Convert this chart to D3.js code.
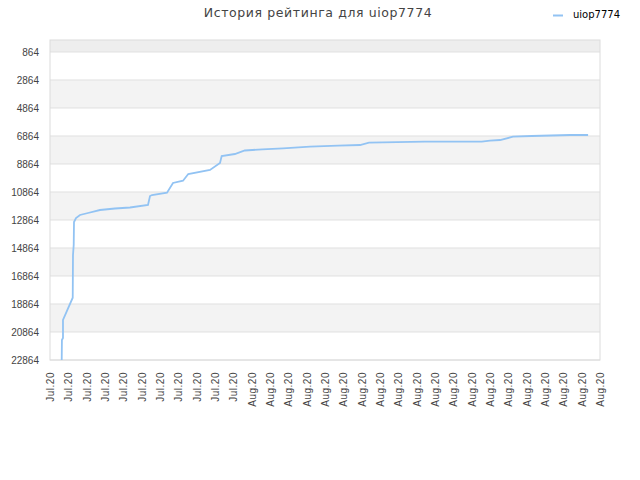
<!DOCTYPE html>
<html>
<head>
<meta charset="utf-8">
<script src="https://cdn.jsdelivr.net/npm/d3@7"></script>
<style>
  body { margin: 0; background: #fff; }
  svg { font-family: "DejaVu Sans", sans-serif; }
</style>
</head>
<body>
<div id="chart"></div>
<script>
const title = "История рейтинга для uiop7774";
const seriesName = "uiop7774";

// rating history
const times = [
  "2020-07-21T15:20", "2020-07-21T15:36", "2020-07-21T17:00", "2020-07-21T17:00",
  "2020-07-22T05:45", "2020-07-22T06:06", "2020-07-22T07:02", "2020-07-22T07:25",
  "2020-07-22T10:02", "2020-07-22T15:16", "2020-07-23T01:45", "2020-07-23T17:27",
  "2020-07-24T13:05", "2020-07-25T08:44", "2020-07-26T08:17", "2020-07-26T10:55",
  "2020-07-26T13:32", "2020-07-27T09:10", "2020-07-27T17:01", "2020-07-28T06:07",
  "2020-07-28T13:00", "2020-07-29T17:27", "2020-07-30T06:33", "2020-07-30T08:46",
  "2020-07-31T02:00", "2020-07-31T15:00", "2020-08-01T14:00", "2020-08-02T17:02",
  "2020-08-04T04:22", "2020-08-05T17:00", "2020-08-06T21:49", "2020-08-07T09:36",
  "2020-08-10T10:48", "2020-08-13T13:12", "2020-08-14T00:00", "2020-08-14T13:12",
  "2020-08-15T06:00", "2020-08-16T06:29", "2020-08-18T08:38", "2020-08-19T08:24"
];
const ranks = [
  22864, 21436, 21290, 20007,
  18414, 15364, 14650, 13007,
  12721, 12507, 12364, 12150,
  12043, 11971, 11793, 11150,
  11079, 10914, 10221, 10057,
  9578, 9293, 8793, 8293,
  8150, 7900, 7814, 7743,
  7628, 7557, 7507, 7343,
  7271, 7271, 7200, 7150,
  6914, 6864, 6793, 6793
];

const yTicks = [864, 2864, 4864, 6864, 8864, 10864, 12864, 14864, 16864, 18864, 20864, 22864];
const xStart = "2020-07-21";
const xEnd = "2020-08-20";

const W = 640, H = 480;
const margin = { top: 40, right: 40, bottom: 120, left: 50 };
const width = W - margin.left - margin.right;
const height = H - margin.top - margin.bottom;

const parse = d3.timeParse("%Y-%m-%dT%H:%M");
const parseDay = d3.timeParse("%Y-%m-%d");
const data = times.map((t, i) => ({ t: parse(t), r: ranks[i] }));

const svg = d3.select("#chart").append("svg")
  .attr("width", W).attr("height", H);

svg.append("text")
  .attr("x", 318).attr("y", 17)
  .attr("text-anchor", "middle")
  .style("font-size", "12.5px")
  .style("letter-spacing", "0.6px")
  .style("fill", "#444")
  .text(title);

const g = svg.append("g").attr("transform", `translate(${margin.left},${margin.top})`);

const x = d3.scaleTime()
  .domain([parseDay(xStart), parseDay(xEnd)])
  .range([0, width]);

const y = d3.scaleLinear()
  .domain([7, 22864])
  .range([0, height]);

// background bands
const edges = [7].concat(yTicks);
g.selectAll("rect.band")
  .data(d3.pairs(edges))
  .enter().append("rect")
  .attr("class", "band")
  .attr("x", 0)
  .attr("width", width)
  .attr("y", d => y(d[0]))
  .attr("height", d => y(d[1]) - y(d[0]))
  .style("fill", (d, i) => i === 0 ? "#eeeeee" : (i % 2 === 0 ? "#f3f3f3" : "#ffffff"));

g.selectAll("line.grid")
  .data(yTicks)
  .enter().append("line")
  .attr("class", "grid")
  .attr("x1", 0).attr("x2", width)
  .attr("y1", d => y(d)).attr("y2", d => y(d))
  .style("stroke", "#e0e0e0");

g.append("rect")
  .attr("width", width).attr("height", height)
  .style("fill", "none").style("stroke", "#dcdcdc");

const yAxis = g.append("g")
  .call(d3.axisLeft(y).tickValues(yTicks).tickSize(0).tickPadding(11).tickFormat(d3.format("d")));
yAxis.select(".domain").remove();
yAxis.selectAll("text").style("font-size", "10px").style("fill", "#444");

const xAxis = g.append("g")
  .attr("transform", `translate(0,${height})`)
  .call(d3.axisBottom(x).ticks(d3.timeDay.every(1)).tickSize(0).tickFormat(d3.timeFormat("%b.%y")));
xAxis.select(".domain").remove();
xAxis.selectAll("text")
  .style("font-size", "10px")
  .style("fill", "#444")
  .style("letter-spacing", "0.5px")
  .attr("text-anchor", "end")
  .attr("dy", "0.35em")
  .attr("transform", "translate(0,12) rotate(-90)")
  .attr("y", 0).attr("x", 0);

const line = d3.line()
  .x(d => x(d.t))
  .y(d => y(d.r));

g.append("path")
  .datum(data)
  .attr("d", line)
  .style("fill", "none")
  .style("stroke", "#92c3f3")
  .style("stroke-width", 1.8);

// legend
svg.append("line")
  .attr("x1", 553).attr("x2", 563)
  .attr("y1", 15.5).attr("y2", 15.5)
  .style("stroke", "#92c3f3").style("stroke-width", 2);
svg.append("text")
  .attr("x", 573).attr("y", 18)
  .style("font-size", "10px")
  .style("fill", "#000")
  .text(seriesName);
</script>
</body>
</html>
